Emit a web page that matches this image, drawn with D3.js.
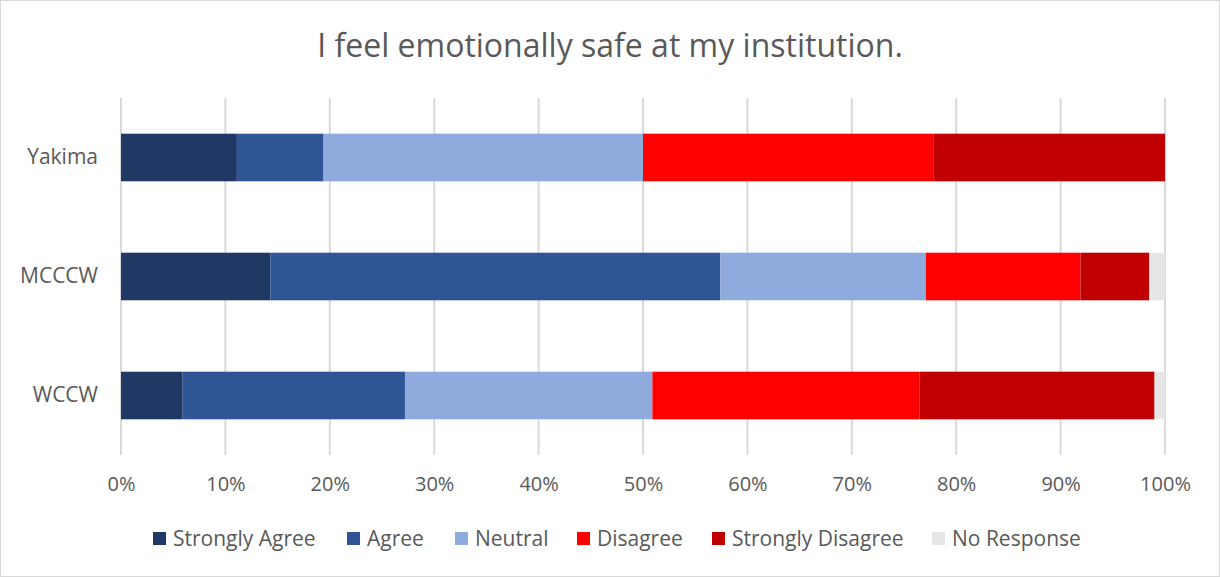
<!DOCTYPE html>
<html><head><meta charset="utf-8">
<script src="https://cdn.jsdelivr.net/npm/d3@7/dist/d3.min.js"></script>
<style>body{margin:0;background:#fff;}svg{display:block;}</style>
</head><body>
<svg id="chart" width="1220" height="577"></svg>
<script>
const title = "I feel emotionally safe at my institution.";
const categories = ["Yakima", "MCCCW", "WCCW"];
const seriesNames = ["Strongly Agree", "Agree", "Neutral", "Disagree", "Strongly Disagree", "No Response"];
const seriesColors = ["#203864", "#2f5597", "#8faadc", "#ff0000", "#c00000", "#e7e6e6"];
const stronglyAgree = [11.1, 14.3, 5.9];
const agree = [8.3, 43.1, 21.3];
const neutral = [30.6, 19.7, 23.7];
const disagree = [27.8, 14.8, 25.6];
const stronglyDisagree = [22.2, 6.6, 22.5];
const noResponse = [0, 1.5, 1.0];
const tickValues = [0,10,20,30,40,50,60,70,80,90,100];

const seriesValues = [stronglyAgree, agree, neutral, disagree, stronglyDisagree, noResponse];
const rows = categories.map((c,i)=>{const r={cat:c}; seriesNames.forEach((s,j)=>r[s]=seriesValues[j][i]); return r;});
const stack = d3.stack().keys(seriesNames)(rows);

const svg = d3.select("#chart");
const font = "'Open Sans', sans-serif";
const textColor = "#595959";
svg.append("rect").attr("x",0.5).attr("y",0.5).attr("width",1219).attr("height",576)
  .attr("fill","#fff").attr("stroke","#d9d9d9");

const x = d3.scaleLinear().domain([0,100]).range([121,1165]);
const y = d3.scaleBand().domain(categories).range([98,455]).paddingInner(0.6).paddingOuter(0.3);

svg.append("text").attr("x",610).attr("y",57).attr("text-anchor","middle")
  .attr("font-family",font).attr("font-size",32).attr("fill",textColor).text(title);

// gridlines
svg.append("g").selectAll("line").data(tickValues).join("line")
  .attr("x1",d=>x(d)).attr("x2",d=>x(d)).attr("y1",98).attr("y2",455)
  .attr("stroke","#d9d9d9").attr("stroke-width",2);

// bars
svg.append("g").selectAll("g").data(stack).join("g")
  .attr("fill",(d,i)=>seriesColors[i])
  .selectAll("rect").data(d=>d).join("rect")
  .attr("x",d=>x(d[0])).attr("width",d=>x(d[1])-x(d[0]))
  .attr("y",d=>y(d.data.cat)).attr("height",y.bandwidth());

// x axis
const xAxis = svg.append("g").attr("transform","translate(0,455)")
  .call(d3.axisBottom(x).tickValues(tickValues).tickFormat(d=>d+"%").tickSize(0).tickPadding(22));
xAxis.select(".domain").remove();
xAxis.selectAll("text").attr("font-family",font).attr("font-size",20).attr("fill",textColor);

// y axis
const yAxis = svg.append("g").attr("transform","translate(121,0)")
  .call(d3.axisLeft(y).tickSize(0).tickPadding(23));
yAxis.select(".domain").remove();
yAxis.selectAll("text").attr("font-family",font).attr("font-size",21).attr("fill",textColor);

// legend
const legendX = [153, 347, 455, 577, 712, 932];
const lg = svg.append("g").selectAll("g").data(seriesNames).join("g")
  .attr("transform",(d,i)=>`translate(${legendX[i]},532)`);
lg.append("rect").attr("width",13).attr("height",13).attr("fill",(d,i)=>seriesColors[i]);
lg.append("text").attr("x",20).attr("y",14).attr("font-family",font).attr("font-size",21)
  .attr("fill",textColor).text(d=>d);
</script>
</body></html>
